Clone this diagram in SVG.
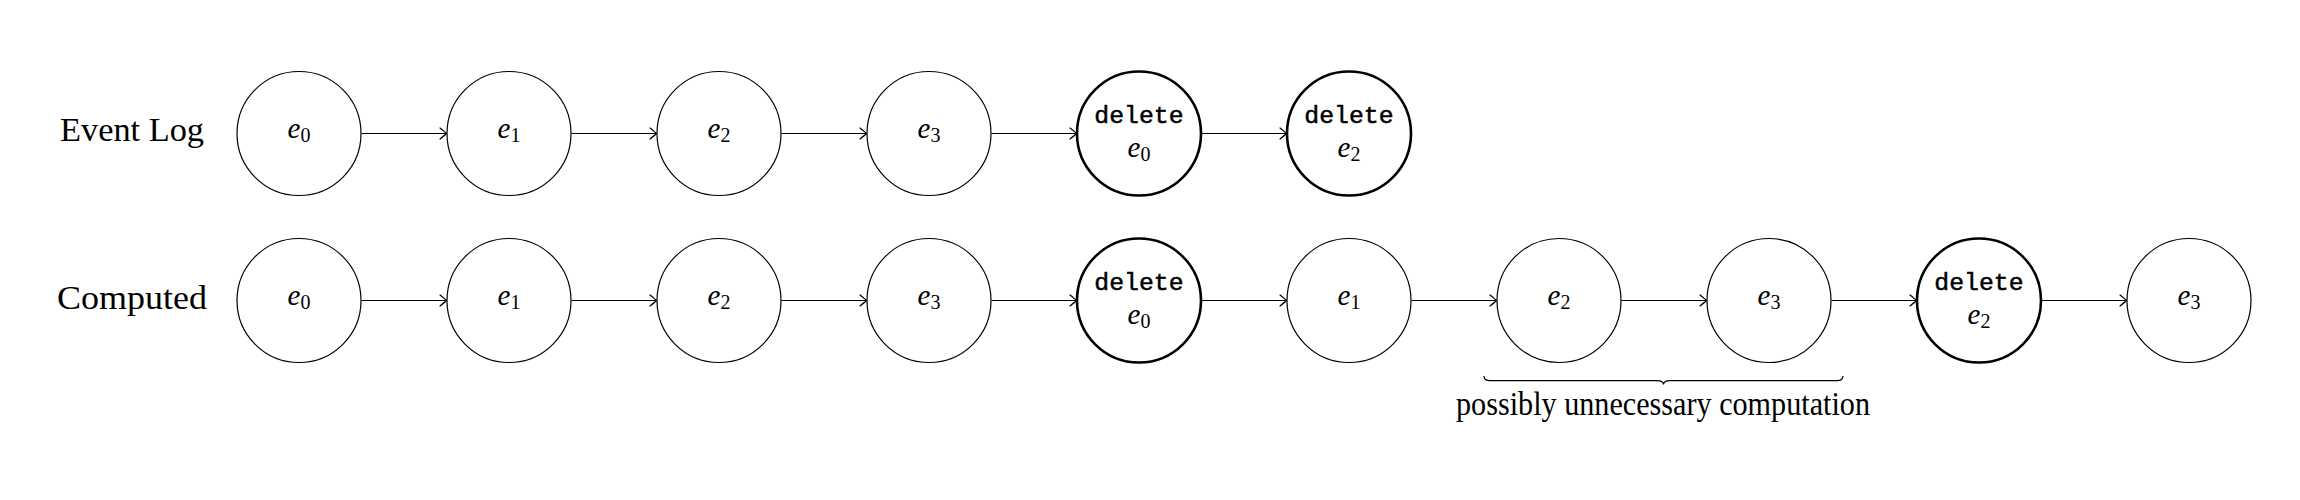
<svg xmlns="http://www.w3.org/2000/svg" width="2300" height="500" viewBox="0 0 2300 500">
<defs>
<style>
.n{fill:#fff;stroke:#000;stroke-width:1.2}
.d{fill:#fff;stroke:#000;stroke-width:2.6}
.m{font-family:"Liberation Serif","Times New Roman",serif;font-size:29px;font-style:italic;text-anchor:middle}
.s{font-style:normal;font-size:20px}
.t{font-family:"Liberation Mono","Courier New",monospace;font-size:24.8px;text-anchor:middle;stroke:#000;stroke-width:0.5}
.l{font-family:"Liberation Serif","Times New Roman",serif;font-size:33px}
.c{fill:none;stroke:#000;stroke-width:1.2}
</style>
<marker id="ah" markerUnits="userSpaceOnUse" markerWidth="14" markerHeight="14" viewBox="-8 -7 10 14" refX="0" refY="0" orient="auto">
<path d="M-6.5,-5.5 Q-1.5,-1.5 0,0 Q-1.5,1.5 -6.5,5.5" fill="none" stroke="#000" stroke-width="1.2" stroke-linecap="round"/>
</marker>
</defs>
<rect width="2300" height="500" fill="#fff"/>
<text class="l" x="60" y="141" textLength="144" lengthAdjust="spacingAndGlyphs">Event Log</text>
<text class="l" x="57" y="308.5" textLength="150" lengthAdjust="spacingAndGlyphs">Computed</text>
<g id="connectors">
<line class="c" x1="361.5" y1="133.5" x2="446.5" y2="133.5" marker-end="url(#ah)"/>
<line class="c" x1="571.5" y1="133.5" x2="656.5" y2="133.5" marker-end="url(#ah)"/>
<line class="c" x1="781.5" y1="133.5" x2="866.5" y2="133.5" marker-end="url(#ah)"/>
<line class="c" x1="991.5" y1="133.5" x2="1076.5" y2="133.5" marker-end="url(#ah)"/>
<line class="c" x1="1201.5" y1="133.5" x2="1286.5" y2="133.5" marker-end="url(#ah)"/>
<line class="c" x1="361.5" y1="300.5" x2="446.5" y2="300.5" marker-end="url(#ah)"/>
<line class="c" x1="571.5" y1="300.5" x2="656.5" y2="300.5" marker-end="url(#ah)"/>
<line class="c" x1="781.5" y1="300.5" x2="866.5" y2="300.5" marker-end="url(#ah)"/>
<line class="c" x1="991.5" y1="300.5" x2="1076.5" y2="300.5" marker-end="url(#ah)"/>
<line class="c" x1="1201.5" y1="300.5" x2="1286.5" y2="300.5" marker-end="url(#ah)"/>
<line class="c" x1="1411.5" y1="300.5" x2="1496.5" y2="300.5" marker-end="url(#ah)"/>
<line class="c" x1="1621.5" y1="300.5" x2="1706.5" y2="300.5" marker-end="url(#ah)"/>
<line class="c" x1="1831.5" y1="300.5" x2="1916.5" y2="300.5" marker-end="url(#ah)"/>
<line class="c" x1="2041.5" y1="300.5" x2="2126.5" y2="300.5" marker-end="url(#ah)"/>
</g>
<g id="log-e0"><circle class="n" cx="299" cy="133.5" r="62"/><text class="m" x="299" y="138">e<tspan class="s" dy="4">0</tspan></text></g>
<g id="log-e1"><circle class="n" cx="509" cy="133.5" r="62"/><text class="m" x="509" y="138">e<tspan class="s" dy="4">1</tspan></text></g>
<g id="log-e2"><circle class="n" cx="719" cy="133.5" r="62"/><text class="m" x="719" y="138">e<tspan class="s" dy="4">2</tspan></text></g>
<g id="log-e3"><circle class="n" cx="929" cy="133.5" r="62"/><text class="m" x="929" y="138">e<tspan class="s" dy="4">3</tspan></text></g>
<g id="log-del-e0"><circle class="d" cx="1139" cy="133.5" r="62"/><text class="t" x="1139" y="123.3">delete</text><text class="m" x="1139" y="156.5">e<tspan class="s" dy="4">0</tspan></text></g>
<g id="log-del-e2"><circle class="d" cx="1349" cy="133.5" r="62"/><text class="t" x="1349" y="123.3">delete</text><text class="m" x="1349" y="156.5">e<tspan class="s" dy="4">2</tspan></text></g>
<g id="comp-e0"><circle class="n" cx="299" cy="300.5" r="62"/><text class="m" x="299" y="305">e<tspan class="s" dy="4">0</tspan></text></g>
<g id="comp-e1"><circle class="n" cx="509" cy="300.5" r="62"/><text class="m" x="509" y="305">e<tspan class="s" dy="4">1</tspan></text></g>
<g id="comp-e2"><circle class="n" cx="719" cy="300.5" r="62"/><text class="m" x="719" y="305">e<tspan class="s" dy="4">2</tspan></text></g>
<g id="comp-e3"><circle class="n" cx="929" cy="300.5" r="62"/><text class="m" x="929" y="305">e<tspan class="s" dy="4">3</tspan></text></g>
<g id="comp-del-e0"><circle class="d" cx="1139" cy="300.5" r="62"/><text class="t" x="1139" y="290.3">delete</text><text class="m" x="1139" y="323.5">e<tspan class="s" dy="4">0</tspan></text></g>
<g id="comp-e1b"><circle class="n" cx="1349" cy="300.5" r="62"/><text class="m" x="1349" y="305">e<tspan class="s" dy="4">1</tspan></text></g>
<g id="comp-e2b"><circle class="n" cx="1559" cy="300.5" r="62"/><text class="m" x="1559" y="305">e<tspan class="s" dy="4">2</tspan></text></g>
<g id="comp-e3b"><circle class="n" cx="1769" cy="300.5" r="62"/><text class="m" x="1769" y="305">e<tspan class="s" dy="4">3</tspan></text></g>
<g id="comp-del-e2"><circle class="d" cx="1979" cy="300.5" r="62"/><text class="t" x="1979" y="290.3">delete</text><text class="m" x="1979" y="323.5">e<tspan class="s" dy="4">2</tspan></text></g>
<g id="comp-e3c"><circle class="n" cx="2189" cy="300.5" r="62"/><text class="m" x="2189" y="305">e<tspan class="s" dy="4">3</tspan></text></g>
<g id="brace">
<path class="c" d="M1484,376 Q1484,380.7 1490,380.7 L1657,380.7 Q1663,380.7 1663.5,384.5 Q1664,380.7 1670,380.7 L1837,380.7 Q1843,380.7 1843,376"/>
<text class="l" x="1663" y="415" font-size="31" text-anchor="middle" textLength="414" lengthAdjust="spacingAndGlyphs">possibly unnecessary computation</text>
</g>
</svg>
